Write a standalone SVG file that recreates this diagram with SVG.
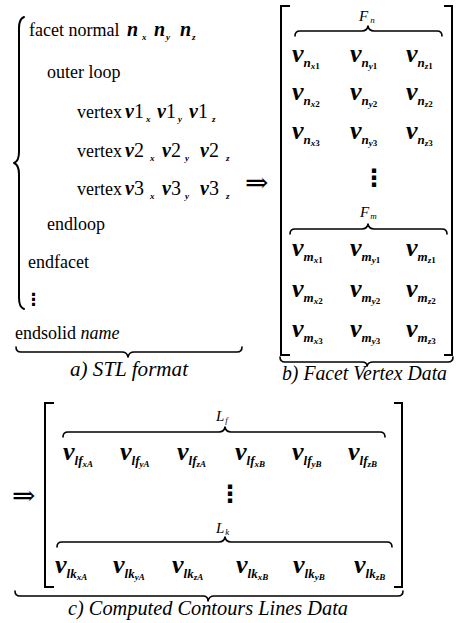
<svg xmlns="http://www.w3.org/2000/svg" width="459" height="623" viewBox="0 0 459 623" font-family="'Liberation Serif', 'Times New Roman', serif">
<style>
.t,.vi,.s,.V,.s1,.s2,.lab,.lsub,.cap{font-family:'Liberation Serif','Times New Roman',serif;fill:#000}
.t{font-size:18px}
.vi{font-size:20px;font-style:italic;font-weight:bold}
.dg{font-style:normal;font-weight:normal}
.s{font-size:9px;font-style:italic;font-weight:bold}
.V{font-size:26px;font-style:italic;font-weight:bold}
.s1{font-size:13px;font-style:italic;font-weight:bold}
.s2{font-size:9px;font-style:italic;font-weight:bold}
.d{font-style:normal}
.lab{font-size:15px;font-style:italic}
.lsub{font-size:9px;font-style:italic}
.cap{font-size:20px;font-style:italic}
.arr{font-family:'DejaVu Serif','DejaVu Sans',serif;font-size:28px}
.dots{font-family:'DejaVu Sans',sans-serif;font-weight:bold}
.br{fill:none;stroke:#000;stroke-width:1.6;stroke-linejoin:round;stroke-linecap:round}
.bk{fill:none;stroke:#000;stroke-width:2}
</style>

<g id="stl-format">
<path class="br" d="M24,17 Q19,19 19,28 L19,152 Q19,161 14,163 Q19,165 19,174 L19,298 Q19,307 24,309" style="stroke-width:2"/>
<text class="t" x="29" y="36">facet normal</text>
<text class="vi" x="127" y="36">n</text><text class="s" x="142" y="40">x</text>
<text class="vi" x="154" y="36">n</text><text class="s" x="166" y="40">y</text>
<text class="vi" x="180" y="36">n</text><text class="s" x="192" y="40">z</text>
<text class="t" x="47" y="78">outer loop</text>
<text class="t" x="77" y="118">vertex</text>
<text class="vi" x="125" y="118">v<tspan class="dg">1</tspan></text><text class="s" x="146" y="122">x</text>
<text class="vi" x="157" y="118">v<tspan class="dg">1</tspan></text><text class="s" x="178" y="122">y</text>
<text class="vi" x="189" y="118">v<tspan class="dg">1</tspan></text><text class="s" x="212" y="122">z</text>
<text class="t" x="77" y="157">vertex</text>
<text class="vi" x="125" y="157">v<tspan class="dg">2</tspan></text><text class="s" x="150" y="161">x</text>
<text class="vi" x="162" y="157">v<tspan class="dg">2</tspan></text><text class="s" x="185" y="161">y</text>
<text class="vi" x="200" y="157">v<tspan class="dg">2</tspan></text><text class="s" x="226" y="161">z</text>
<text class="t" x="77" y="195">vertex</text>
<text class="vi" x="125" y="195">v<tspan class="dg">3</tspan></text><text class="s" x="150" y="199">x</text>
<text class="vi" x="162" y="195">v<tspan class="dg">3</tspan></text><text class="s" x="185" y="199">y</text>
<text class="vi" x="200" y="195">v<tspan class="dg">3</tspan></text><text class="s" x="226" y="199">z</text>
<text class="t" x="47" y="230">endloop</text>
<text class="t" x="28" y="268">endfacet</text>
<text class="dots" x="25" y="305" style="font-size:17px">⋮</text>
<text class="t" x="15" y="339">endsolid <tspan font-style="italic">name</tspan></text>
<path class="br" d="M16,347 Q16,352 21,352 L122,352 Q127,352 128,357 Q129,352 134,352 L237,352 Q242,352 242,347"/>
<text class="cap" x="129" y="376" text-anchor="middle" textLength="118" lengthAdjust="spacingAndGlyphs">a) STL format</text>
</g>

<g id="arrow-ab">
<text class="arr" x="245" y="192">⇒</text>
</g>

<g id="facet-vertex-data">
<path class="bk" d="M290,6 L281,6 L281,355 L290,355"/>
<path class="bk" d="M444,6 L452,6 L452,355 L444,355"/>
<text class="lab" x="359" y="21">F<tspan class="lsub" dx="2" dy="2">n</tspan></text>
<path class="br" d="M295,36 Q295,31 300,31 L362,31 Q367,31 368,26 Q369,31 374,31 L437,31 Q442,31 442,36"/>
<text class="V" x="292" y="62">v<tspan class="s1" dy="5">n</tspan><tspan class="s2" dy="2">x<tspan class="d">1</tspan></tspan></text>
<text class="V" x="350" y="62">v<tspan class="s1" dy="5">n</tspan><tspan class="s2" dy="2">y<tspan class="d">1</tspan></tspan></text>
<text class="V" x="406" y="62">v<tspan class="s1" dy="5">n</tspan><tspan class="s2" dy="2">z<tspan class="d">1</tspan></tspan></text>
<text class="V" x="292" y="100">v<tspan class="s1" dy="5">n</tspan><tspan class="s2" dy="2">x<tspan class="d">2</tspan></tspan></text>
<text class="V" x="350" y="100">v<tspan class="s1" dy="5">n</tspan><tspan class="s2" dy="2">y<tspan class="d">2</tspan></tspan></text>
<text class="V" x="406" y="100">v<tspan class="s1" dy="5">n</tspan><tspan class="s2" dy="2">z<tspan class="d">2</tspan></tspan></text>
<text class="V" x="292" y="139">v<tspan class="s1" dy="5">n</tspan><tspan class="s2" dy="2">x<tspan class="d">3</tspan></tspan></text>
<text class="V" x="350" y="139">v<tspan class="s1" dy="5">n</tspan><tspan class="s2" dy="2">y<tspan class="d">3</tspan></tspan></text>
<text class="V" x="406" y="139">v<tspan class="s1" dy="5">n</tspan><tspan class="s2" dy="2">z<tspan class="d">3</tspan></tspan></text>
<text class="dots" x="362" y="186" style="font-size:24px">⋮</text>
<text class="lab" x="360" y="217">F<tspan class="lsub" dx="1" dy="2">m</tspan></text>
<path class="br" d="M290,234 Q290,229 295,229 L362,229 Q367,229 368,224 Q369,229 374,229 L442,229 Q447,229 447,234"/>
<text class="V" x="292" y="256">v<tspan class="s1" dy="5">m</tspan><tspan class="s2" dy="2">x<tspan class="d">1</tspan></tspan></text>
<text class="V" x="350" y="256">v<tspan class="s1" dy="5">m</tspan><tspan class="s2" dy="2">y<tspan class="d">1</tspan></tspan></text>
<text class="V" x="406" y="256">v<tspan class="s1" dy="5">m</tspan><tspan class="s2" dy="2">z<tspan class="d">1</tspan></tspan></text>
<text class="V" x="292" y="297">v<tspan class="s1" dy="5">m</tspan><tspan class="s2" dy="2">x<tspan class="d">2</tspan></tspan></text>
<text class="V" x="350" y="297">v<tspan class="s1" dy="5">m</tspan><tspan class="s2" dy="2">y<tspan class="d">2</tspan></tspan></text>
<text class="V" x="406" y="297">v<tspan class="s1" dy="5">m</tspan><tspan class="s2" dy="2">z<tspan class="d">2</tspan></tspan></text>
<text class="V" x="292" y="337">v<tspan class="s1" dy="5">m</tspan><tspan class="s2" dy="2">x<tspan class="d">3</tspan></tspan></text>
<text class="V" x="350" y="337">v<tspan class="s1" dy="5">m</tspan><tspan class="s2" dy="2">y<tspan class="d">3</tspan></tspan></text>
<text class="V" x="406" y="337">v<tspan class="s1" dy="5">m</tspan><tspan class="s2" dy="2">z<tspan class="d">3</tspan></tspan></text>
<path class="br" d="M280,357 Q280,362 285,362 L362,362 Q367,362 367,366 Q368,362 373,362 L448,362 Q453,362 453,357"/>
<text class="cap" x="282" y="380" textLength="165" lengthAdjust="spacingAndGlyphs">b) Facet Vertex Data</text>
</g>

<g id="arrow-bc">
<text class="arr" x="12" y="505">⇒</text>
</g>

<g id="contour-lines-data">
<path class="bk" d="M54,403 L45,403 L45,587 L54,587"/>
<path class="bk" d="M394,403 L402,403 L402,587 L394,587"/>
<text class="lab" x="216" y="421">L<tspan class="lsub" dx="1" dy="2">f</tspan></text>
<path class="br" d="M63,437 Q63,432 68,432 L219,432 Q224,432 225,427 Q226,432 231,432 L380,432 Q385,432 385,437"/>
<text class="V" x="63" y="460">v<tspan class="s1" dy="5">lf</tspan><tspan class="s2" dy="2">xA</tspan></text>
<text class="V" x="120" y="460">v<tspan class="s1" dy="5">lf</tspan><tspan class="s2" dy="2">yA</tspan></text>
<text class="V" x="177" y="460">v<tspan class="s1" dy="5">lf</tspan><tspan class="s2" dy="2">zA</tspan></text>
<text class="V" x="235" y="460">v<tspan class="s1" dy="5">lf</tspan><tspan class="s2" dy="2">xB</tspan></text>
<text class="V" x="292" y="460">v<tspan class="s1" dy="5">lf</tspan><tspan class="s2" dy="2">yB</tspan></text>
<text class="V" x="348" y="460">v<tspan class="s1" dy="5">lf</tspan><tspan class="s2" dy="2">zB</tspan></text>
<text class="dots" x="218" y="502" style="font-size:24px">⋮</text>
<text class="lab" x="216" y="533">L<tspan class="lsub" dx="1" dy="2">k</tspan></text>
<path class="br" d="M57,547 Q57,542 62,542 L219,542 Q224,542 225,537 Q226,542 231,542 L387,542 Q392,542 392,547"/>
<text class="V" x="55" y="573">v<tspan class="s1" dy="5">lk</tspan><tspan class="s2" dy="2">xA</tspan></text>
<text class="V" x="113" y="573">v<tspan class="s1" dy="5">lk</tspan><tspan class="s2" dy="2">yA</tspan></text>
<text class="V" x="172" y="573">v<tspan class="s1" dy="5">lk</tspan><tspan class="s2" dy="2">zA</tspan></text>
<text class="V" x="236" y="573">v<tspan class="s1" dy="5">lk</tspan><tspan class="s2" dy="2">xB</tspan></text>
<text class="V" x="293" y="573">v<tspan class="s1" dy="5">lk</tspan><tspan class="s2" dy="2">yB</tspan></text>
<text class="V" x="354" y="573">v<tspan class="s1" dy="5">lk</tspan><tspan class="s2" dy="2">zB</tspan></text>
<path class="br" d="M15,591 Q15,596 20,596 L203,596 Q208,596 208,601 Q209,596 214,596 L398,596 Q403,596 403,591"/>
<text class="cap" x="68" y="615" textLength="280" lengthAdjust="spacingAndGlyphs">c) Computed Contours Lines Data</text>
</g>
</svg>
